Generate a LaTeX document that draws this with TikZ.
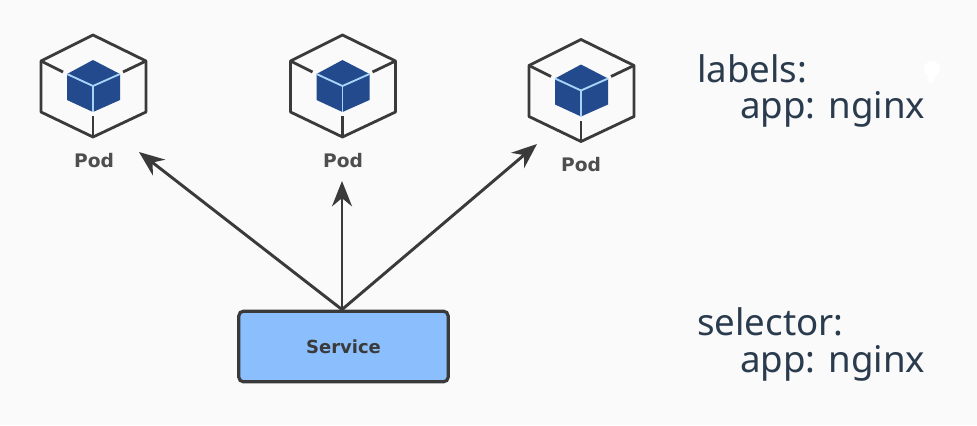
\documentclass[tikz,border=0pt]{standalone}
\usepackage{fontspec}
\setmainfont{DejaVu Sans}
\newfontfamily\labelfont{Noto Sans}
\usetikzlibrary{arrows.meta}
\definecolor{pagebg}{HTML}{FAFAFA}
\definecolor{ink}{HTML}{3A3A3A}
\definecolor{cubeblue}{HTML}{224A8C}
\definecolor{cubeedge}{HTML}{A8D4F8}
\definecolor{boxblue}{HTML}{8ABEFC}
\definecolor{textdark}{HTML}{2A3B4E}
\tikzset{
  x=0.75pt,y=-0.75pt,
  podtext/.style={font=\bfseries\fontsize{14}{16}\selectfont,text=ink!90,inner sep=0pt},
  spectext/.style={font=\labelfont\fontsize{27.5}{30}\selectfont,text=textdark,inner sep=0pt,anchor=base west},
  link/.style={draw=ink,line width=2.2pt,-{Stealth[length=19pt,width=15pt]}},
  shell/.style={draw=ink,line width=2.1pt,line join=round},
  servicebox/.style={draw=ink,line width=2.4pt,fill=boxblue,rounded corners=3.5pt,
    minimum width=157pt,minimum height=53pt,inner sep=0pt,
    font=\bfseries\fontsize{13.5}{16}\selectfont,text=ink},
  pics/podcube/.style={code={
    % outer shell, with three spokes pointing at the inner block
    \draw[shell] (0,-51) -- (-52,-25) -- (-52,26) -- (0,51) -- (53,26) -- (53,-25) -- cycle;
    \draw[shell] (-52,-25) -- (-30,-14);
    \draw[shell] (53,-25) -- (30,-14);
    \draw[shell] (0,51) -- (0,30);
    % inner block, its three visible faces split by pale edges
    \fill[cubeblue] (0,-26) -- (27,-12) -- (27,14) -- (0,26) -- (-26,14) -- (-26,-12) -- cycle;
    \draw[cubeedge,line width=1.4pt] (-26,-12) -- (0,0) -- (27,-12);
    \draw[cubeedge,line width=1.4pt] (0,0) -- (0,26);
  }}
}
\begin{document}
\begin{tikzpicture}
\useasboundingbox (0,0) rectangle (977,425);
\fill[pagebg] (0,0) rectangle (977,425);

\pic at (93,86) {podcube};
\pic at (342.5,86) {podcube};
\pic at (581,90.5) {podcube};

\node[podtext] (podA) at (94,161) {Pod};
\node[podtext] (podB) at (343,161) {Pod};
\node[podtext] (podC) at (581,165) {Pod};

\node[servicebox] (service) at (343.5,346.5) {Service};

\coordinate (tipA) at (139,152);
\coordinate (tipB) at (342,181);
\coordinate (tipC) at (537,144);
\coordinate (hub) at (tipB |- service.north);

\draw[link] (hub) -- (tipA);
\draw[link] (hub) -- (tipB);
\draw[link] (hub) -- (tipC);

\node[spectext] (labelsKey) at (697,82) {labels:};
\node[spectext] (labelsVal) at (740,118) {app: nginx};
\node[spectext] (selectorKey) at (697,335) {selector:};
\node[spectext] (selectorVal) at (740,372) {app: nginx};

% small pale smudge to the right of the first heading
\fill[white] (932,69) ellipse [x radius=8, y radius=8];
\fill[white] (931,78) ellipse [x radius=4, y radius=5];
\end{tikzpicture}
\end{document}
